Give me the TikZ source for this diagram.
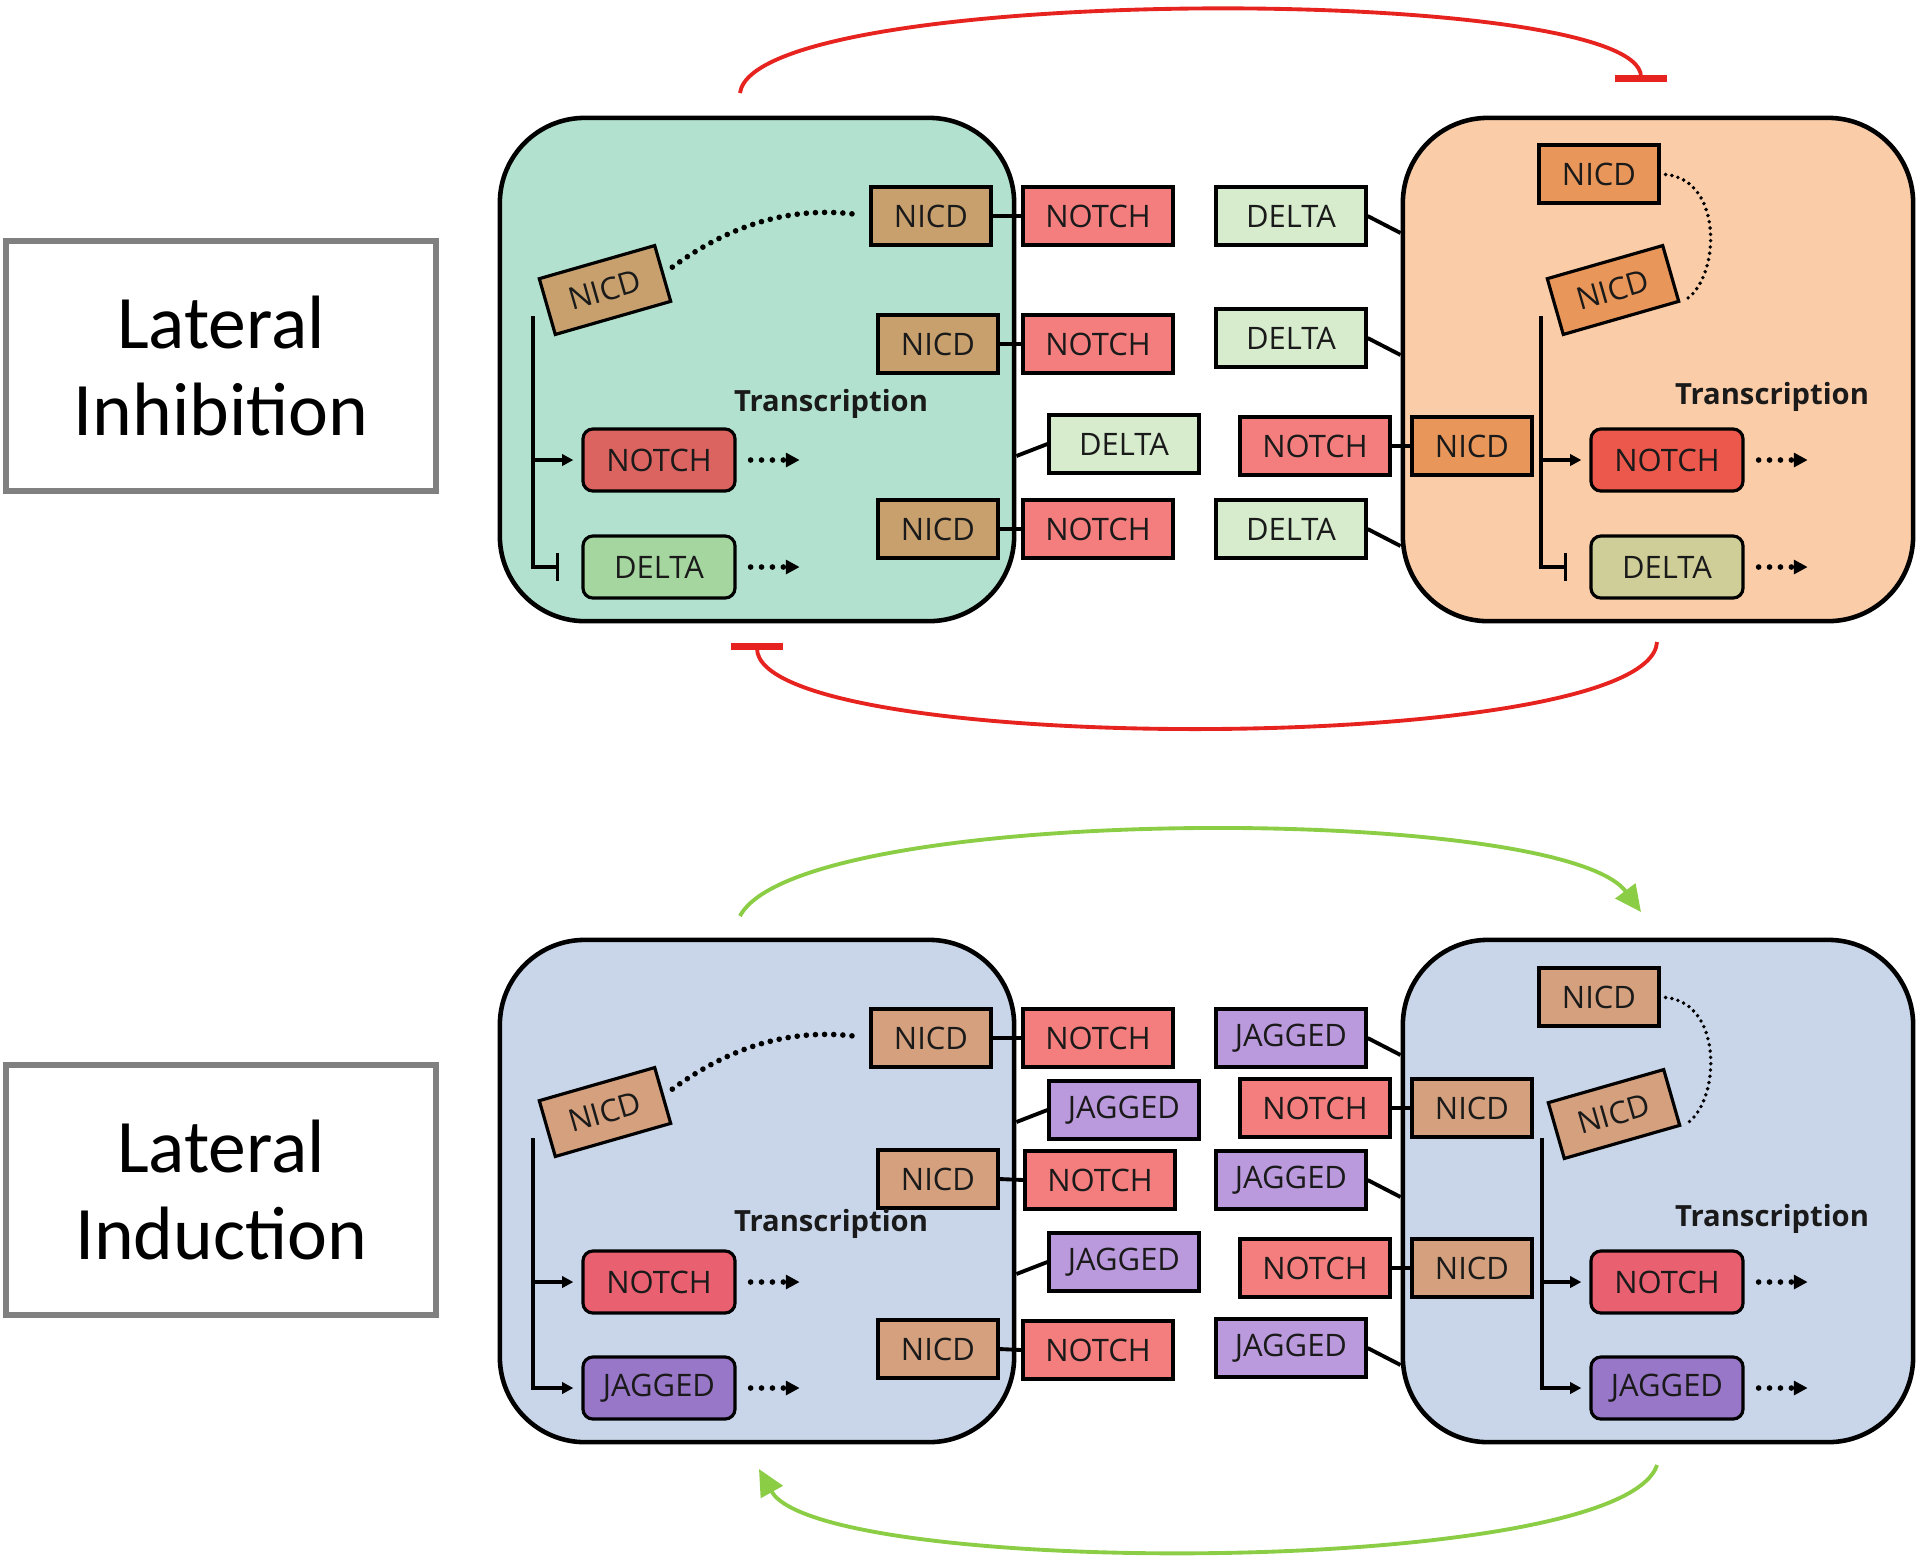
\documentclass[tikz,border=0pt]{standalone}
\usepackage{fontspec}
\setmainfont{Open Sans}
\newfontfamily\calibfont{Carlito}
\usetikzlibrary{arrows.meta,calc}

\definecolor{cellgreen}{HTML}{B2E2CF}
\definecolor{cellorange}{HTML}{FACCA8}
\definecolor{cellblue}{HTML}{C9D6E9}
\definecolor{nicdtan}{HTML}{C7A06E}
\definecolor{nicdorange}{HTML}{E9965A}
\definecolor{nicdbrown}{HTML}{D4A07E}
\definecolor{notchmem}{HTML}{F47D7D}
\definecolor{notchleft}{HTML}{DC6460}
\definecolor{notchright}{HTML}{EC584C}
\definecolor{notchlow}{HTML}{E96170}
\definecolor{deltamem}{HTML}{D6ECCC}
\definecolor{deltaleft}{HTML}{A6D6A0}
\definecolor{deltaright}{HTML}{D0CE98}
\definecolor{jagmem}{HTML}{BA99DC}
\definecolor{jagin}{HTML}{9876C8}
\definecolor{inhred}{HTML}{E6231E}
\definecolor{indgreen}{HTML}{8CCD46}
\definecolor{framegray}{HTML}{808080}
\definecolor{textgray}{HTML}{1A1A1A}

\tikzset{
  cell/.style={draw, line width=1.3pt, rounded corners=0.85cm, inner sep=0pt},
  mem/.style={draw, line width=0.9pt, minimum width=1.5cm, minimum height=0.58cm,
    inner sep=0pt, text=textgray, font=\fontsize{8.8}{10}\selectfont},
  nicd/.style={mem, minimum width=1.2cm},
  gene/.style={mem, rounded corners=0.1cm, minimum width=1.52cm, minimum height=0.62cm},
  sidelabel/.style={draw=framegray, line width=1.5pt, minimum width=4.3cm, minimum height=2.5cm,
    align=center, font=\calibfont\fontsize{21.5}{25}\selectfont},
  trtext/.style={font=\bfseries\fontsize{8.3}{10}\selectfont, text=textgray},
  link/.style={line width=0.9pt},
  bind/.style={line width=1.1pt},
  dots/.style={line width=1.6pt, line cap=round, dash pattern=on 0pt off 2.6pt},
  finedots/.style={line width=1.1pt, line cap=round, dash pattern=on 0pt off 1.8pt},
  more/.style={line width=1.6pt, line cap=round, dash pattern=on 0pt off 3.1pt,
    -{Triangle[length=3.9pt,width=3.9pt]}},
  up/.style={link, -{Triangle[length=3.2pt,width=3.2pt]}, shorten >=0.08cm},
  down/.style={link, -{Bar[width=8pt]}},
  inh/.style={inhred, line width=1.1pt, -{Bar[width=15pt,line width=2pt]}},
  ind/.style={indgreen, line width=1.1pt, -{Triangle[length=7.5pt,width=7pt]}},
}

\begin{document}
\begin{tikzpicture}[x=0.01cm, y=-0.01cm]
  \useasboundingbox (0,0) rectangle (1920,1559);

  % lateral inhibition
  \node[sidelabel] (labA) at (221,366) {Lateral\\Inhibition};
  \node[cell, fill=cellgreen, minimum width=5.14cm, minimum height=5.03cm] (cellA) at (757,369.5) {};
  \node[cell, fill=cellorange, minimum width=5.10cm, minimum height=5.03cm] (cellB) at (1658,369.5) {};

  \node[nicd, fill=nicdtan, rotate=16] (nA0) at (605,290) {NICD};
  \node[nicd, fill=nicdtan] (nA1) at (931,216) {NICD};
  \node[nicd, fill=nicdtan] (nA2) at (938,344) {NICD};
  \node[nicd, fill=nicdtan] (nA3) at (938,529) {NICD};
  \node[mem, fill=notchmem] (mA1) at (1098,216) {NOTCH};
  \node[mem, fill=notchmem] (mA2) at (1098,344) {NOTCH};
  \node[mem, fill=notchmem] (mA3) at (1098,529) {NOTCH};
  \node[mem, fill=deltamem] (dA) at (1124,444) {DELTA};
  \node[trtext] (trA) at (831,404) {Transcription};
  \node[gene, fill=notchleft] (gA1) at (659,460) {NOTCH};
  \node[gene, fill=deltaleft] (gA2) at (659,567) {DELTA};

  \node[mem, fill=deltamem] (dB1) at (1291,216) {DELTA};
  \node[mem, fill=deltamem] (dB2) at (1291,338) {DELTA};
  \node[mem, fill=deltamem] (dB3) at (1291,529) {DELTA};
  \node[mem, fill=notchmem] (mB) at (1315,446) {NOTCH};
  \node[nicd, fill=nicdorange] (nB) at (1472,446) {NICD};
  \node[nicd, fill=nicdorange] (nB1) at (1599,174) {NICD};
  \node[nicd, fill=nicdorange, rotate=16] (nB0) at (1613,290) {NICD};
  \node[trtext] (trB) at (1772,397) {Transcription};
  \node[gene, fill=notchright] (gB1) at (1667,460) {NOTCH};
  \node[gene, fill=deltaright] (gB2) at (1667,567) {DELTA};

  \draw[bind] (nA1.east) -- (mA1.west);
  \draw[bind] (nA2.east) -- (mA2.west);
  \draw[bind] (nA3.east) -- (mA3.west);
  \draw[bind] (dA.west) -- ($(cellA.east |- dA.west)+(0,12)$);
  \draw[bind] (dB1.east) -- ($(cellB.west |- dB1.east)+(0,17)$);
  \draw[bind] (dB2.east) -- ($(cellB.west |- dB2.east)+(0,17)$);
  \draw[bind] (dB3.east) -- ($(cellB.west |- dB3.east)+(0,17)$);
  \draw[bind] (mB.east) -- (nB.west);

  \draw[dots, shorten <=0.1cm, shorten >=0.14cm] (nA0.east) .. controls (730,225) and (790,206) .. (nA1.west);
  \draw[finedots, shorten <=0.05cm, shorten >=0.03cm] (nB1.east) .. controls (1725,180) and (1720,282) .. (nB0.south east);

  \coordinate (vA) at (533,316);
  \draw[down] (vA) |- ([xshift=-0.22cm]gA2.west);
  \draw[up] (vA |- gA1.west) -- (gA1.west);
  \coordinate (vB) at (1541,316);
  \draw[down] (vB) |- ([xshift=-0.22cm]gB2.west);
  \draw[up] (vB |- gB1.west) -- (gB1.west);
  \draw[more] ([xshift=0.14cm]gA1.east) -- ([xshift=0.63cm]gA1.east);
  \draw[more] ([xshift=0.14cm]gA2.east) -- ([xshift=0.63cm]gA2.east);
  \draw[more] ([xshift=0.14cm]gB1.east) -- ([xshift=0.63cm]gB1.east);
  \draw[more] ([xshift=0.14cm]gB2.east) -- ([xshift=0.63cm]gB2.east);

  \coordinate (inhS1) at (740,93);
  \coordinate (inhE1) at (1641,82);
  \draw[inh] (inhS1) .. controls (755,-17) and (1641,-17) .. (inhE1);
  \coordinate (inhS2) at (1657,642);
  \coordinate (inhE2) at (757,643);
  \draw[inh] (inhS2) .. controls (1650,757) and (757,757) .. (inhE2);

  % lateral induction
  \node[sidelabel] (labC) at (221,1190) {Lateral\\Induction};
  \node[cell, fill=cellblue, minimum width=5.14cm, minimum height=5.02cm] (cellC) at (757,1191) {};
  \node[cell, fill=cellblue, minimum width=5.10cm, minimum height=5.02cm] (cellD) at (1658,1191) {};

  \node[nicd, fill=nicdbrown, rotate=16] (nC0) at (605,1112) {NICD};
  \node[nicd, fill=nicdbrown] (nC1) at (931,1038) {NICD};
  \node[nicd, fill=nicdbrown] (nC2) at (938,1179) {NICD};
  \node[nicd, fill=nicdbrown] (nC3) at (938,1349) {NICD};
  \node[mem, fill=notchmem] (mC1) at (1098,1038) {NOTCH};
  \node[mem, fill=notchmem] (mC2) at (1100,1180) {NOTCH};
  \node[mem, fill=notchmem] (mC3) at (1098,1350) {NOTCH};
  \node[mem, fill=jagmem] (jC1) at (1124,1110) {JAGGED};
  \node[mem, fill=jagmem] (jC2) at (1124,1262) {JAGGED};
  \node[trtext] (trC) at (831,1224) {Transcription};
  \node[gene, fill=notchlow] (gC1) at (659,1282) {NOTCH};
  \node[gene, fill=jagin] (gC2) at (659,1388) {JAGGED};

  \node[mem, fill=jagmem] (jD1) at (1291,1038) {JAGGED};
  \node[mem, fill=jagmem] (jD2) at (1291,1180) {JAGGED};
  \node[mem, fill=jagmem] (jD3) at (1291,1348) {JAGGED};
  \node[mem, fill=notchmem] (mD1) at (1315,1108) {NOTCH};
  \node[mem, fill=notchmem] (mD2) at (1315,1268) {NOTCH};
  \node[nicd, fill=nicdbrown] (nD1) at (1472,1108) {NICD};
  \node[nicd, fill=nicdbrown] (nD2) at (1472,1268) {NICD};
  \node[nicd, fill=nicdbrown] (nD3) at (1599,997) {NICD};
  \node[nicd, fill=nicdbrown, rotate=16] (nD0) at (1614,1114) {NICD};
  \node[trtext] (trD) at (1772,1219) {Transcription};
  \node[gene, fill=notchlow] (gD1) at (1667,1282) {NOTCH};
  \node[gene, fill=jagin] (gD2) at (1667,1388) {JAGGED};

  \draw[bind] (nC1.east) -- (mC1.west);
  \draw[bind] (nC2.east) -- (mC2.west);
  \draw[bind] (nC3.east) -- (mC3.west);
  \draw[bind] (jC1.west) -- ($(cellC.east |- jC1.west)+(0,12)$);
  \draw[bind] (jC2.west) -- ($(cellC.east |- jC2.west)+(0,12)$);
  \draw[bind] (jD1.east) -- ($(cellD.west |- jD1.east)+(0,17)$);
  \draw[bind] (jD2.east) -- ($(cellD.west |- jD2.east)+(0,17)$);
  \draw[bind] (jD3.east) -- ($(cellD.west |- jD3.east)+(0,17)$);
  \draw[bind] (mD1.east) -- (nD1.west);
  \draw[bind] (mD2.east) -- (nD2.west);

  \draw[dots, shorten <=0.1cm, shorten >=0.14cm] (nC0.east) .. controls (730,1047) and (790,1028) .. (nC1.west);
  \draw[finedots, shorten <=0.05cm, shorten >=0.03cm] (nD3.east) .. controls (1725,1003) and (1720,1106) .. (nD0.south east);

  \coordinate (vC) at (533,1138);
  \draw[up] (vC) |- (gC2.west);
  \draw[up] (vC |- gC1.west) -- (gC1.west);
  \coordinate (vD) at (1542,1138);
  \draw[up] (vD) |- (gD2.west);
  \draw[up] (vD |- gD1.west) -- (gD1.west);
  \draw[more] ([xshift=0.14cm]gC1.east) -- ([xshift=0.63cm]gC1.east);
  \draw[more] ([xshift=0.14cm]gC2.east) -- ([xshift=0.63cm]gC2.east);
  \draw[more] ([xshift=0.14cm]gD1.east) -- ([xshift=0.63cm]gD1.east);
  \draw[more] ([xshift=0.14cm]gD2.east) -- ([xshift=0.63cm]gD2.east);

  \coordinate (indS1) at (740,916);
  \coordinate (indE1) at (1641,912);
  \draw[ind] (indS1) .. controls (800,803) and (1560,803) .. (indE1);
  \coordinate (indS2) at (1657,1465);
  \coordinate (indE2) at (759,1469);
  \draw[ind] (indS2) .. controls (1620,1578) and (820,1578) .. (indE2);
\end{tikzpicture}
\end{document}
